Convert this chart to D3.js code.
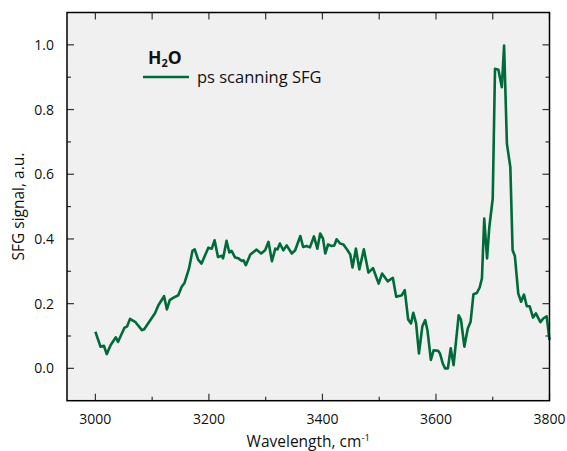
<!DOCTYPE html>
<html><head><meta charset="utf-8">
<script src="https://cdn.jsdelivr.net/npm/d3@7"></script>
<style>body{margin:0;background:#fff}svg{display:block}text{font-family:"Open Sans","Noto Sans",sans-serif}</style>
</head><body>
<svg id="c" width="567" height="451"></svg>
<script>
const wavenumbers = [3000,3009,3015,3020,3027,3036,3040,3051,3056,3061,3070,3082,3086,3105,3111,3121,3126,3131,3137,3146,3152,3157,3165,3171,3175,3181,3187,3199,3205,3210,3216,3223,3225,3231,3236,3240,3246,3252,3258,3261,3265,3273,3284,3292,3299,3305,3311,3317,3321,3325,3331,3337,3346,3352,3361,3366,3372,3378,3385,3391,3396,3401,3405,3410,3416,3421,3425,3431,3437,3443,3449,3453,3459,3465,3473,3481,3489,3499,3505,3515,3524,3530,3540,3545,3551,3556,3560,3565,3570,3576,3581,3585,3591,3596,3604,3607,3612,3616,3621,3626,3631,3640,3644,3650,3656,3661,3666,3672,3677,3681,3685,3690,3694,3700,3704,3710,3716,3720,3725,3731,3735,3739,3745,3750,3755,3760,3765,3771,3776,3784,3789,3795,3800];
const signal = [0.113,0.067,0.070,0.044,0.072,0.096,0.082,0.125,0.130,0.153,0.144,0.118,0.121,0.170,0.195,0.223,0.182,0.211,0.218,0.226,0.252,0.264,0.309,0.363,0.368,0.336,0.324,0.373,0.370,0.396,0.344,0.348,0.340,0.394,0.358,0.363,0.343,0.340,0.332,0.334,0.319,0.352,0.367,0.355,0.365,0.391,0.331,0.370,0.368,0.386,0.365,0.380,0.355,0.365,0.409,0.375,0.378,0.374,0.408,0.370,0.417,0.401,0.355,0.383,0.378,0.380,0.399,0.386,0.383,0.368,0.352,0.312,0.370,0.306,0.368,0.296,0.310,0.262,0.293,0.269,0.280,0.221,0.226,0.242,0.151,0.139,0.172,0.139,0.046,0.130,0.149,0.118,0.026,0.056,0.054,0.046,0.015,0.000,0.000,0.062,0.010,0.164,0.151,0.067,0.123,0.144,0.229,0.233,0.250,0.278,0.463,0.340,0.437,0.525,0.926,0.923,0.869,0.998,0.694,0.622,0.365,0.347,0.231,0.206,0.228,0.192,0.192,0.157,0.170,0.143,0.154,0.161,0.087];
const xMajorTicks = [3000,3200,3400,3600,3800];
const xMinorTicks = [3100,3300,3500,3700];
const yMajorTicks = [0,0.2,0.4,0.6,0.8,1.0];
const yMinorTicks = [0.1,0.3,0.5,0.7,0.9];
const seriesName = "ps scanning SFG";
const legendTitle = "H";

const svg = d3.select("#c");
const L=67, R=549.5, T=12.5, B=400.7;
const x = d3.scaleLinear().domain([2950,3800]).range([L,R]);
const y = d3.scaleLinear().domain([-0.1,1.1]).range([B,T]);
const green = "#006a38";

svg.append("rect").attr("x",L).attr("y",T).attr("width",R-L).attr("height",B-T).attr("fill","#f0f0f0");

const tickCol = "#333";
function ticksX(vals, len, pos, dir){
  svg.append("g").attr("stroke",tickCol).attr("stroke-width",1.2).selectAll("line").data(vals).join("line")
    .attr("x1",d=>x(d)).attr("x2",d=>x(d)).attr("y1",pos).attr("y2",pos+dir*len);
}
function ticksY(vals, len, pos, dir){
  svg.append("g").attr("stroke",tickCol).attr("stroke-width",1.2).selectAll("line").data(vals).join("line")
    .attr("y1",d=>y(d)).attr("y2",d=>y(d)).attr("x1",pos).attr("x2",pos+dir*len);
}
ticksX(xMajorTicks,7,B,-1); ticksX(xMinorTicks,4,B,-1);
ticksX(xMajorTicks,7,T,1); ticksX(xMinorTicks,7,T,1);
ticksY(yMajorTicks,7,L,1); ticksY(yMinorTicks,4,L,1);
ticksY(yMajorTicks,7,R,-1); ticksY(yMinorTicks,4,R,-1);

svg.append("g").selectAll("text").data(xMajorTicks).join("text")
  .attr("x",d=>x(d)).attr("y",424).attr("text-anchor","middle").attr("font-size",14).attr("fill","#111")
  .text(d=>d);
svg.append("g").selectAll("text").data(yMajorTicks).join("text")
  .attr("x",54).attr("y",d=>y(d)+5).attr("text-anchor","end").attr("font-size",14).attr("fill","#111")
  .text(d=>d3.format(".1f")(d));

const xt = svg.append("text").attr("x",(L+R)/2).attr("y",447).attr("text-anchor","middle").attr("font-size",15.5).attr("fill","#111");
xt.append("tspan").text("Wavelength, cm");
xt.append("tspan").attr("font-size",9.5).attr("dy",-6).text("-1");

svg.append("text").attr("transform",`translate(24,${(T+B)/2}) rotate(-90)`).attr("text-anchor","middle")
  .attr("font-size",15.5).attr("fill","#111").text("SFG signal, a.u.");

const data = wavenumbers.map((w,i)=>[w,signal[i]]);
svg.append("path").datum(data).attr("fill","none").attr("stroke",green).attr("stroke-width",2.6)
  .attr("stroke-linejoin","round").attr("d",d3.line().x(d=>x(d[0])).y(d=>y(d[1])));

svg.append("rect").attr("x",L).attr("y",T).attr("width",R-L).attr("height",B-T).attr("fill","none").attr("stroke","#000").attr("stroke-width",1.5);

const lt = svg.append("text").attr("x",148).attr("y",64).attr("font-size",17.5).attr("font-weight","bold").attr("fill","#111");
lt.append("tspan").text(legendTitle);
lt.append("tspan").attr("font-size",11).attr("dy",3).text("2");
lt.append("tspan").attr("dy",-3).text("O");
svg.append("line").attr("x1",143).attr("x2",189).attr("y1",77).attr("y2",77).attr("stroke",green).attr("stroke-width",2.6);
svg.append("text").attr("x",197).attr("y",82.5).attr("font-size",16.5).attr("fill","#111").text(seriesName);
</script>
</body></html>
